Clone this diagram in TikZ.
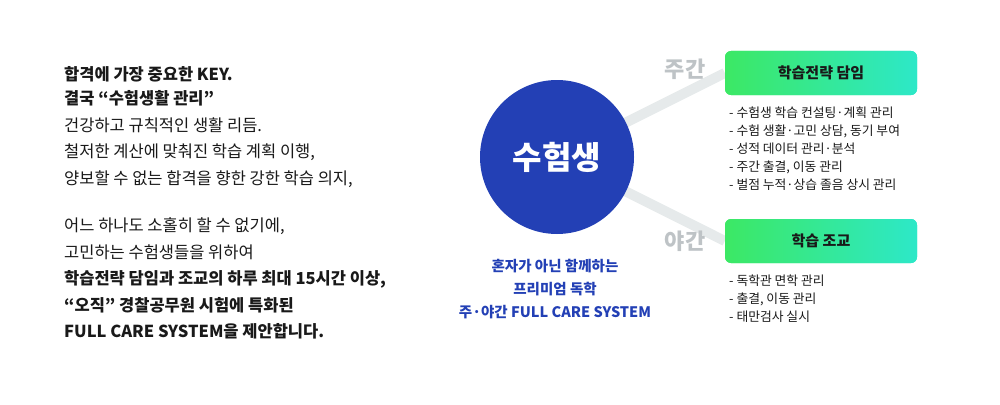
\documentclass[tikz,border=0pt]{standalone}
\usepackage{fontspec}
\setmainfont{Noto Sans CJK KR}
\usetikzlibrary{shadings}
\definecolor{cblue}{RGB}{35,64,181}
\definecolor{lgray}{RGB}{230,234,235}
\definecolor{tgray}{RGB}{190,195,198}
\definecolor{g1}{RGB}{60,232,100}
\definecolor{g2}{RGB}{45,232,200}
\definecolor{txt}{RGB}{25,25,25}
\tikzset{
 lefttxt/.style={anchor=west,font=\fontsize{16.5}{18}\selectfont,text=txt,inner sep=0},
 leftb/.style={lefttxt,font=\fontsize{16.5}{18}\selectfont\bfseries},
 item/.style={anchor=west,font=\fontsize{12.8}{14}\selectfont,text=txt,inner sep=0},
 gbox/.style={rounded corners=6pt,left color=g1,right color=g2,minimum width=192pt,minimum height=44pt,font=\fontsize{15}{17}\selectfont\bfseries,text=txt},
 sidelab/.style={font=\fontsize{22}{24}\selectfont\bfseries,text=tgray},
 ctr/.style={font=\fontsize{14.5}{16}\selectfont\bfseries,text=cblue}
}
\begin{document}
\begin{tikzpicture}[x=1pt,y=-1pt]
\useasboundingbox (0,0) rectangle (1000,404);
\node[gbox] (top) at (821,73) {학습전략 담임};
\node[gbox] (bot) at (821,241) {학습 조교};
\coordinate (c) at (557,157);
\draw[lgray,line width=10pt] (c) -- (top.west);
\draw[lgray,line width=10pt] (c) -- (bot.west);
\node[gbox] at (821,73) {학습전략 담임};
\node[gbox] at (821,241) {학습 조교};
\node[circle,fill=cblue,minimum size=154pt,text=white,font=\fontsize{32}{34}\selectfont\bfseries] (circ) at (c) {수험생};
\node[sidelab] (day) at (685,69) {주간};
\node[sidelab] (night) at (685,241) {야간};
\node[leftb] (l1) at (64,74) {합격에 가장 중요한 KEY.};
\node[leftb] (l2) at (64,98) {결국 “수험생활 관리”};
\node[lefttxt] (l3) at (64,125) {건강하고 규칙적인 생활 리듬.};
\node[lefttxt] (l4) at (64,152) {철저한 계산에 맞춰진 학습 계획 이행,};
\node[lefttxt] (l5) at (64,179) {양보할 수 없는 합격을 향한 강한 학습 의지,};
\node[lefttxt] (l6) at (64,226) {어느 하나도 소홀히 할 수 없기에,};
\node[lefttxt] (l7) at (64,252) {고민하는 수험생들을 위하여};
\node[leftb] (l8) at (64,279) {학습전략 담임과 조교의 하루 최대 15시간 이상,};
\node[leftb] (l9) at (64,305) {“오직” 경찰공무원 시험에 특화된};
\node[leftb] (l10) at (64,331) {FULL CARE SYSTEM을 제안합니다.};
\node[item] (a1) at (729,113) {- 수험생 학습 컨설팅·계획 관리};
\node[item] (a2) at (729,131) {- 수험 생활·고민 상담, 동기 부여};
\node[item] (a3) at (729,149) {- 성적 데이터 관리·분석};
\node[item] (a4) at (729,167) {- 주간 출결, 이동 관리};
\node[item] (a5) at (729,185) {- 벌점 누적·상습 졸음 상시 관리};
\node[item] (b1) at (729,281) {- 독학관 면학 관리};
\node[item] (b2) at (729,299) {- 출결, 이동 관리};
\node[item] (b3) at (729,317) {- 태만검사 실시};
\node[ctr] (m1) at (555,266) {혼자가 아닌 함께하는};
\node[ctr] (m2) at (555,289) {프리미엄 독학};
\node[ctr] (m3) at (555,312) {주·야간 FULL CARE SYSTEM};
\end{tikzpicture}
\end{document}
